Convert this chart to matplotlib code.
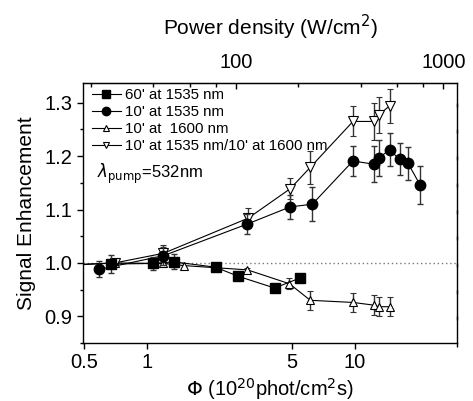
import numpy as np
import matplotlib.pyplot as plt
from matplotlib.lines import Line2D
from matplotlib.ticker import FixedLocator, NullFormatter, FixedFormatter

plt.rcParams['font.family'] = ['Liberation Sans', 'DejaVu Sans']

# 60' at 1535 nm
sq_x = [0.67, 1.07, 1.35, 2.14, 2.75, 4.12, 5.48]
sq_y = [0.998, 0.999, 1.002, 0.992, 0.975, 0.953, 0.972]
sq_e = [0.017, 0.012, 0.014, 0.0, 0.0, 0.0, 0.0]

# 10' at 1535 nm
ci_x = [0.59, 1.20, 3.05, 4.90, 6.26, 9.83, 12.35, 13.05, 14.74, 16.48, 18.08, 20.7]
ci_y = [0.988, 1.0135, 1.073, 1.105, 1.110, 1.191, 1.185, 1.196, 1.212, 1.194, 1.187, 1.146]
ci_e = [0.015, 0.017, 0.018, 0.023, 0.032, 0.028, 0.034, 0.034, 0.031, 0.030, 0.031, 0.036]

# 10' at 1600 nm
up_x = [0.45, 0.70, 1.20, 1.51, 3.05, 4.86, 6.12, 9.83, 12.35, 13.05, 14.74]
up_y = [0.997, 1.000, 0.999, 0.995, 0.987, 0.961, 0.930, 0.926, 0.921, 0.918, 0.918]
up_e = [0.0, 0.0, 0.0, 0.004, 0.004, 0.010, 0.018, 0.018, 0.018, 0.018, 0.018]

# 10' at 1535 nm / 10' at 1600 nm
dn_x = [0.45, 0.70, 1.20, 3.08, 4.90, 6.12, 9.83, 12.35, 13.05, 14.74]
dn_y = [0.996, 1.000, 1.018, 1.084, 1.139, 1.179, 1.265, 1.265, 1.277, 1.294]
dn_e = [0.0, 0.0, 0.015, 0.018, 0.020, 0.031, 0.028, 0.034, 0.033, 0.031]

labels = ["60' at 1535 nm", "10' at 1535 nm", "10' at  1600 nm",
          "10' at 1535 nm/10' at 1600 nm"]

fig = plt.figure(figsize=(4.73, 4.01), dpi=100)
ax = fig.add_axes([0.1755, 0.1446, 0.7915, 0.6484])

ax.axhline(1.0, color='#777777', ls=(0, (1, 2)), lw=1, zorder=1)

ekw = dict(ecolor='#333333', elinewidth=1, capsize=2.5, capthick=1, lw=0.8, color='black')
ax.errorbar(up_x, up_y, yerr=up_e, marker='^', ms=5.5, mfc='white', mec='black',
            mew=0.8, zorder=3, **ekw)
ax.errorbar(dn_x, dn_y, yerr=dn_e, marker='v', ms=6.5, mfc='white', mec='black',
            mew=0.8, zorder=3, **ekw)
ax.errorbar(ci_x, ci_y, yerr=ci_e, marker='o', ms=7.5, mfc='black', mec='black',
            zorder=4, **ekw)
ax.errorbar(sq_x, sq_y, yerr=sq_e, marker='s', ms=6.5, mfc='black', mec='black',
            zorder=5, **ekw)

ax.set_xscale('log')
ax.set_xlim(0.492, 31.3)
ax.set_ylim(0.881, 1.337)

ax.xaxis.set_major_locator(FixedLocator([0.5, 1, 5, 10]))
ax.xaxis.set_major_formatter(FixedFormatter(['0.5', '1', '5', '10']))
ax.xaxis.set_minor_locator(FixedLocator([]))
ax.set_yticks([0.9, 1.0, 1.1, 1.2, 1.3])
ax.set_yticklabels(['0.9', '1.0', '1.1', '1.2', '1.3'])
ax.set_yticks(np.arange(0.85, 1.34, 0.05), minor=True)
ax.tick_params(axis='both', which='major', labelsize=14.5, direction='out', length=4, width=1)
ax.tick_params(axis='x', which='major', pad=3)
ax.tick_params(axis='y', which='minor', direction='out', length=2.5, width=1)
ax.tick_params(axis='y', which='both', right=True, labelright=False)
for t in ax.yaxis.get_major_ticks() + ax.yaxis.get_minor_ticks():
    t.tick2line.set_marker(3)
    t.tick2line.set_markersize(3)

ax.set_xlabel(r'$\Phi$ (10$^{20}$phot/cm$^2$s)', fontsize=14.5, labelpad=3)
ax.set_ylabel('Signal Enhancement', fontsize=15, labelpad=6)

# top axis: power density at 532 nm pump
k = 37.3
top = ax.secondary_xaxis('top', functions=(lambda v: v * k, lambda v: v / k))
top.set_xscale('log')
top.xaxis.set_major_locator(FixedLocator([100, 1000]))
top.xaxis.set_major_formatter(FixedFormatter(['100', '1000']))
top.xaxis.set_minor_locator(FixedLocator([20, 40, 60, 80, 200, 400, 600, 800]))
top.xaxis.set_minor_formatter(NullFormatter())
top.tick_params(which='major', direction='in', length=4, width=1, labelsize=14.5, pad=8)
top.tick_params(which='minor', direction='in', length=3, width=1)
top.set_xlabel('Power density (W/cm$^2$)', fontsize=15, labelpad=13)

for s in ax.spines.values():
    s.set_linewidth(1)

ax.text(0.037, 0.65, r'$\lambda_{\mathrm{pump}}$=532nm', transform=ax.transAxes,
        fontsize=12, va='center', ha='left')

handles = [
    Line2D([], [], color='black', lw=0.8, marker='s', ms=5.5, mfc='black', mec='black'),
    Line2D([], [], color='black', lw=0.8, marker='o', ms=6, mfc='black', mec='black'),
    Line2D([], [], color='black', lw=0.8, marker='^', ms=5, mfc='white', mec='black', mew=0.8),
    Line2D([], [], color='black', lw=0.8, marker='v', ms=5, mfc='white', mec='black', mew=0.8),
]
ax.legend(handles, labels, loc='upper left', bbox_to_anchor=(0.0, 1.015), frameon=False,
          fontsize=10.8, handlelength=1.9, handletextpad=0.3, labelspacing=0.2,
          borderaxespad=0.2)

fig.savefig('out.png', dpi=100)
